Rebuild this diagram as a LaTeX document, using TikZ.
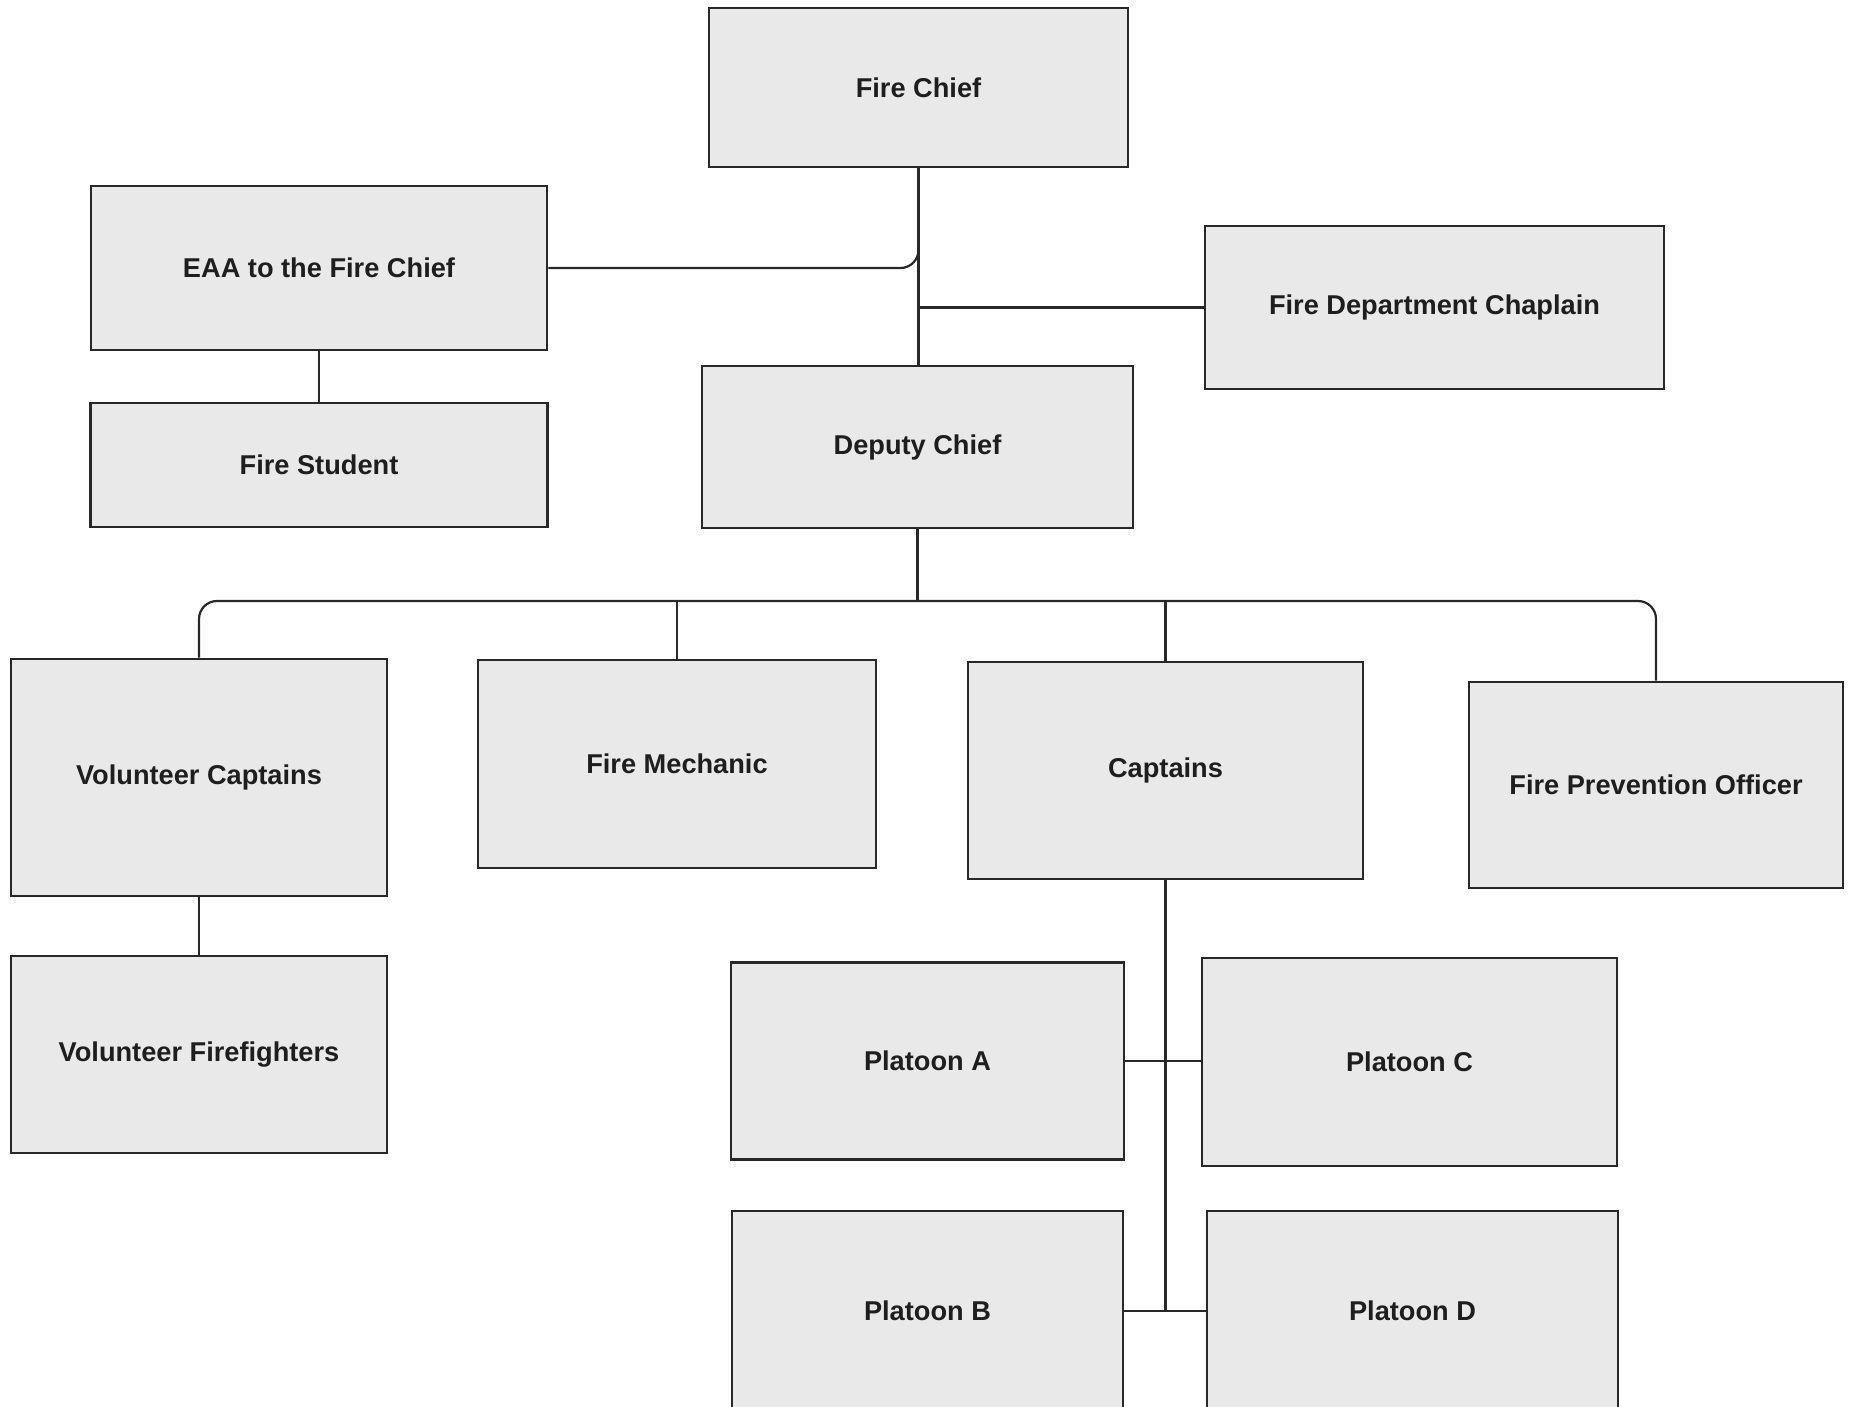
\documentclass[tikz,border=0pt]{standalone}
\usepackage{fontspec}
\setsansfont{Liberation Sans}
\definecolor{boxfill}{RGB}{233,233,233}
\definecolor{boxline}{RGB}{40,40,40}
\definecolor{ink}{RGB}{30,30,30}
\tikzset{%
        every node/.style = {font = \sffamily\bfseries\fontsize{13.6}{16}\selectfont},
        post/.style = {rectangle, draw, line width = 1.3pt, inner sep = 0pt},
        dims/.style 2 args = {minimum width = #1*0.5pt, minimum height = #2*0.5pt},
        link/.style = {draw, line width = 1.1pt, rounded corners = 9pt}
    }
\tikzset{%
            post/.append style = {color = boxline, fill = boxfill, text = ink},
            link/.append style = {color = boxline}
        }
\begin{document}
\begin{tikzpicture}[x = 0.5pt, y = 0.5pt]
				\useasboundingbox (0,0) rectangle (1849,-1407);
				\clip (0,0) rectangle (1849,-1407);
				% boxes
				\node[post, dims = {419}{159}]		(chief)			at (918.5,-87.5)		{Fire Chief};
				\node[post, dims = {456}{164}]		(eaa)			at (319,-268)		{EAA to the Fire Chief};
				\node[post, dims = {459}{163}]		(chaplain)		at (1434.5,-307.5)	{Fire Department Chaplain};
				\node[post, dims = {431}{162}]		(deputy)		at (917.5,-447)		{Deputy Chief};
				\node[post, dims = {457}{124}]		(student)		at (319,-465)		{Fire Student};
				\node[post, dims = {376}{237}]		(volcapt)		at (199,-777.5)		{Volunteer Captains};
				\node[post, dims = {398}{208}]		(mechanic)		at (677,-764)		{Fire Mechanic};
				\node[post, dims = {395}{217}]		(captains)		at (1165.5,-770.5)	{Captains};
				\node[post, dims = {374}{206}]		(prevention)	at (1656,-785)		{Fire Prevention Officer};
				\node[post, dims = {376}{197}]		(volff)			at (199,-1054.5)		{Volunteer Firefighters};
				\node[post, dims = {393}{197}]		(plata)			at (927.5,-1061)		{Platoon A};
				\node[post, dims = {415}{208}]		(platc)			at (1409.5,-1062)	{Platoon C};
				\node[post, dims = {391}{200}]		(platb)			at (927.5,-1311)		{Platoon B};
				\node[post, dims = {411}{200}]		(platd)			at (1412.5,-1311)	{Platoon D};
				\coordinate							(bus)			at (917.5,-601);

				% connectors
				\draw[link]	(chief.south)		|- (eaa.east);
				\draw[link]	(chief.south)		-- (chief.south |- deputy.north);
				\draw[link]	(chaplain.west)		-- (chaplain.west -| chief.south);
				\draw[link]	(eaa.south)			-- (student.north);
				\draw[link]	(deputy.south)		-- (bus);
				\draw[link]	(volcapt.north)		|- (bus) -| (prevention.north);
				\draw[link]	(mechanic.north)	-- (mechanic.north |- bus);
				\draw[link]	(captains.north)	-- (captains.north |- bus);
				\draw[link]	(volcapt.south)		-- (volff.north);
				\draw[link]	(captains.south)	-- (captains.south |- platb.east);
				\draw[link]	(plata.east)		-- (plata.east -| platc.west);
				\draw[link]	(platb.east)		-- (platd.west);
			\end{tikzpicture}
\end{document}
